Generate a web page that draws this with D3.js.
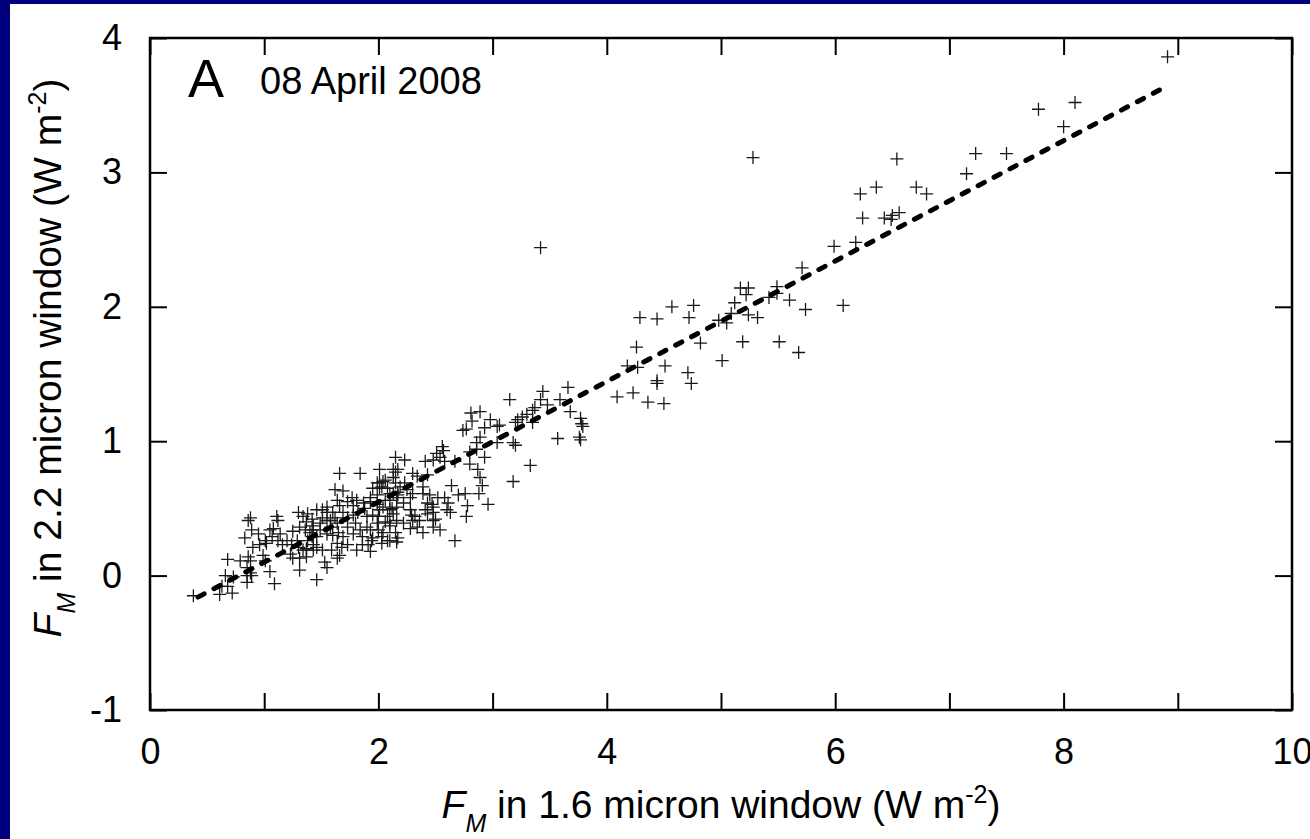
<!DOCTYPE html>
<html>
<head>
<meta charset="utf-8">
<script src="https://cdn.jsdelivr.net/npm/d3@7"></script>
<style>
  body { margin: 0; background: #fff; }
  svg { display: block; font-family: "Liberation Sans", Arial, sans-serif; }
</style>
</head>
<body>
<svg width="1310" height="839"></svg>
<script>
// axis ticks
var xTicks = d3.range(0, 11);
var yTicks = [-1, 0, 1, 2, 3, 4];

// fitted line end points (x in 1.6 micron, y in 2.2 micron)
var fitX = [0.42, 8.9];
var fitY = [-0.16, 3.64];

// F_M in 1.6 micron window vs F_M in 2.2 micron window
var highFlux = [
  [8.91,3.86],[8.10,3.52],[7.78,3.47],[8.00,3.34],[7.50,3.14],[7.23,3.14],[7.15,2.99],[6.54,3.10],[5.28,3.11],
  [6.22,2.84],[6.36,2.89],[6.71,2.89],[6.80,2.84],[6.24,2.66],[6.43,2.66],[6.49,2.65],[6.56,2.70],[6.50,2.68],
  [6.18,2.48],[5.99,2.45],[5.71,2.29],[6.07,2.01],[5.74,1.98],[5.60,2.05],[5.49,2.15],[5.49,2.10],[5.42,2.07],
  [5.17,2.14],[5.24,2.14],[5.22,2.09],[5.12,2.03],[5.09,1.95],[5.24,1.94],[5.32,1.92],[4.98,1.90],[5.05,1.88],
  [5.19,1.74],[5.51,1.74],[5.68,1.66],[5.01,1.60],[4.82,1.73],
  [4.57,2.00],[4.76,2.01],[4.29,1.92],[4.44,1.91],[4.72,1.92],[4.26,1.70],[4.18,1.56],[4.27,1.55],[4.51,1.56],
  [4.71,1.51],[4.74,1.43],[4.44,1.45],[4.44,1.43],[4.09,1.33],[4.23,1.36],[4.36,1.29],[4.50,1.28],
  [3.42,2.44]
];

var midFlux = [
  [3.66,1.40],[3.44,1.37],[3.15,1.31],[3.42,1.31],[3.37,1.25],[3.35,1.23],[3.59,1.31],[3.48,1.27],[3.68,1.22],
  [3.77,1.17],[3.78,1.13],[3.79,1.11],[3.76,1.03],[3.77,1.01],[3.57,1.02],[3.30,1.20],[3.26,1.18],[3.22,1.16],
  [3.20,1.14],[3.06,1.12],[3.04,1.11],[3.35,1.14],[3.33,0.82],[3.18,0.70],[2.81,1.21],[2.89,1.22],[2.82,1.15],
  [2.98,1.16],[2.74,1.08],[2.77,1.09],[2.93,1.10],[2.89,1.03],[2.86,0.99],[2.80,0.92],[2.86,0.94],[2.56,0.96],
  [2.51,0.91],[3.20,0.97],[3.18,0.99],[3.04,0.99],[2.93,0.88],[2.67,0.85],[2.80,0.83],[2.87,0.79],[2.41,0.85],
  [2.23,0.86],[2.58,0.85],[2.89,0.73],[2.30,0.76],[2.91,0.67],[2.88,0.61],[2.96,0.53],[2.78,0.52],[2.77,0.44],
  [2.48,0.41],[2.15,0.88],[2.54,0.88],[2.01,0.79],[2.13,0.79],[2.34,0.74],[2.43,0.75],[2.23,0.69],[2.19,0.66],
  [2.64,0.67],[2.39,0.61],[2.45,0.60],[2.52,0.58],[2.70,0.60],[2.76,0.61],[2.58,0.58],[2.61,0.54],[2.43,0.54],
  [2.48,0.51],[2.60,0.49],[2.63,0.47],[2.28,0.49],[2.29,0.45],[2.41,0.49],[2.04,0.70],[2.03,0.66],[2.13,0.61],
  [2.16,0.58],[2.06,0.56],[2.10,0.56],[2.12,0.50],[2.30,0.41],[2.06,0.40],[2.10,0.37],[2.67,0.26],[2.54,0.34]
];

var lowFlux = [
  [0.38,-0.15],[0.61,-0.14],[0.72,-0.13],[0.63,-0.08],[0.68,-0.08],[0.85,-0.05],[0.85,0.00],[0.89,0.00],[0.66,0.00],
  [0.73,-0.01],[0.68,0.12],[0.79,0.11],[0.86,0.14],[0.88,0.11],[0.88,0.02],[0.85,0.06],[1.05,0.03],[1.09,-0.06],
  [1.31,0.04],[1.46,-0.03],[1.55,0.06],[1.53,0.10],[1.31,0.13],[1.23,0.16],[1.25,0.13],[1.34,0.19],[1.37,0.19],
  [1.43,0.19],[1.46,0.21],[1.37,0.14],[0.86,0.41],[0.88,0.43],[1.11,0.44],[1.12,0.41],[0.83,0.28],[0.89,0.34],
  [0.95,0.31],[1.01,0.26],[0.96,0.23],[1.02,0.24],[1.05,0.34],[1.08,0.35],[1.07,0.29],[1.14,0.31],[1.12,0.26],
  [1.20,0.26],[1.24,0.23],[1.16,0.23],[1.25,0.33],[0.90,0.21],[0.99,0.15],[1.01,0.11],[1.34,0.44],[1.38,0.46],
  [1.42,0.42],[1.37,0.40],[1.31,0.36],[1.36,0.34],[1.42,0.34],[1.43,0.37],[1.49,0.39],[1.46,0.49],[1.51,0.49],
  [1.55,0.47],[1.51,0.43],[1.55,0.41],[1.60,0.47],[1.58,0.41],[1.49,0.34],[1.55,0.31],[1.42,0.29],[1.43,0.23],
  [1.29,0.26],[1.30,0.21],[1.60,0.30],[1.65,0.32],[1.69,0.29],[1.64,0.24],[1.68,0.21],[1.73,0.23],[1.59,0.19],
  [1.64,0.13],[1.66,0.15],[1.66,0.76],[1.84,0.76],[1.62,0.64],[1.69,0.63],[1.77,0.58],[1.73,0.55],[1.64,0.56],
  [1.66,0.52],[1.55,0.51],[1.78,0.52],[1.82,0.47],[1.88,0.50],[1.69,0.47],[1.73,0.43],[1.78,0.45],[1.62,0.43],
  [1.64,0.39],[1.73,0.36],[1.80,0.39],[1.84,0.34],[1.78,0.31],[1.86,0.29],[1.90,0.36],[1.93,0.34],[1.99,0.39],
  [1.90,0.44],[1.95,0.45],[2.00,0.44],[1.87,0.54],[1.93,0.55],[1.99,0.53],[2.04,0.51],[1.95,0.65],[2.01,0.69],
  [2.06,0.71],[2.01,0.65],[2.08,0.65],[2.13,0.73],[2.15,0.69],[2.17,0.62],[2.17,0.79],[1.81,0.56],[1.93,0.58],
  [1.99,0.60],[2.00,0.34],[2.03,0.29],[2.08,0.26],[2.15,0.32],[2.16,0.25],[2.01,0.49],[2.08,0.44],[2.13,0.46],
  [2.16,0.41],[1.94,0.26],[1.91,0.23],[1.86,0.23],[1.81,0.19],[1.93,0.18],[2.10,0.39],[1.30,0.47],[1.40,0.32],
  [1.46,0.29],[1.38,0.26],[1.37,0.20],[1.51,0.19],[1.58,0.36],[2.10,0.49],[2.16,0.51],[2.22,0.54],[2.25,0.64],
  [2.30,0.61],[2.28,0.58],[2.39,0.66],[2.48,0.86],[2.57,0.93],[2.47,0.53],[2.50,0.42],[2.03,0.24],[2.10,0.26],
  [2.17,0.28],[1.95,0.28],[2.04,0.32],[2.22,0.39],[2.28,0.35],[2.34,0.36],[2.39,0.32],[2.48,0.36],[2.32,0.44],
  [2.36,0.41],[2.43,0.46],[2.48,0.47],[2.10,0.61],[2.17,0.60],[2.15,0.77],[1.99,0.69]
];

var svg = d3.select("svg"),
    width = +svg.attr("width"),
    height = +svg.attr("height");

var x = d3.scaleLinear().domain([0, 10]).range([150, 1292]);
var y = d3.scaleLinear().domain([-1, 4]).range([710, 38]);

// slide background: white page with navy edge
svg.append("rect").attr("width", width).attr("height", height).attr("fill", "#fff");
svg.append("rect").attr("width", 10).attr("height", height).attr("fill", "#00007f");
svg.append("rect").attr("width", width).attr("height", 4).attr("fill", "#00007f");

function style_axis(g) {
  g.select(".domain").remove();
  g.selectAll(".tick line").attr("stroke", "#000").attr("stroke-width", 2);
  g.selectAll(".tick text").attr("font-size", 36).attr("fill", "#000")
    .attr("font-family", '"Liberation Sans", Arial, sans-serif');
}

svg.append("g").attr("transform", "translate(0,710)")
  .call(d3.axisBottom(x).tickValues(xTicks).tickSize(-17).tickPadding(28)
    .tickFormat(function(d) { return d % 2 ? "" : String(d); }))
  .call(style_axis);
svg.append("g").attr("transform", "translate(0,38)")
  .call(d3.axisTop(x).tickValues(xTicks).tickSize(-17).tickFormat(""))
  .call(style_axis);
svg.append("g").attr("transform", "translate(150,0)")
  .call(d3.axisLeft(y).tickValues(yTicks).tickSize(-17).tickPadding(28)
    .tickFormat(function(d) { return String(d); }))
  .call(style_axis);
svg.append("g").attr("transform", "translate(1292,0)")
  .call(d3.axisRight(y).tickValues(yTicks).tickSize(-17).tickFormat(""))
  .call(style_axis);

// plus markers
var allPoints = highFlux.concat(midFlux, lowFlux);
svg.append("g").attr("id", "points")
  .selectAll("path")
  .data(allPoints)
  .enter().append("path")
  .attr("d", "M-6.5,0H6.5M0,-6.5V6.5")
  .attr("transform", function(d) { return "translate(" + x(d[0]) + "," + y(d[1]) + ")"; })
  .attr("stroke", "#1a1a1a")
  .attr("stroke-width", 1.3)
  .attr("fill", "none");

// dashed fit
var line = d3.line().x(function(d) { return x(d[0]); }).y(function(d) { return y(d[1]); });
svg.append("path")
  .datum(d3.zip(fitX, fitY))
  .attr("d", line)
  .attr("fill", "none")
  .attr("stroke", "#000")
  .attr("stroke-width", 5)
  .attr("stroke-linecap", "round")
  .attr("stroke-dasharray", "7,11");

// frame
svg.append("rect")
  .attr("x", 150).attr("y", 38).attr("width", 1142).attr("height", 672)
  .attr("fill", "none").attr("stroke", "#000").attr("stroke-width", 2.5);

// panel label
svg.append("text").attr("x", 188).attr("y", 97).attr("font-size", 54).text("A");
svg.append("text").attr("x", 260).attr("y", 94).attr("font-size", 38).text("08 April 2008");

// axis titles
var xt = svg.append("text").attr("x", 721).attr("y", 818)
  .attr("text-anchor", "middle").attr("font-size", 39);
xt.append("tspan").attr("font-style", "italic").text("F");
xt.append("tspan").attr("font-style", "italic").attr("font-size", 25).attr("dy", 14).text("M");
xt.append("tspan").attr("dy", -14).text(" in 1.6 micron window (W m");
xt.append("tspan").attr("font-size", 25).attr("dy", -15).text("-2");
xt.append("tspan").attr("dy", 15).text(")");

var yt = svg.append("text").attr("transform", "translate(61,358) rotate(-90)")
  .attr("text-anchor", "middle").attr("font-size", 39);
yt.append("tspan").attr("font-style", "italic").text("F");
yt.append("tspan").attr("font-style", "italic").attr("font-size", 25).attr("dy", 14).text("M");
yt.append("tspan").attr("dy", -14).text(" in 2.2 micron window (W m");
yt.append("tspan").attr("font-size", 25).attr("dy", -15).text("-2");
yt.append("tspan").attr("dy", 15).text(")");
</script>
</body>
</html>
